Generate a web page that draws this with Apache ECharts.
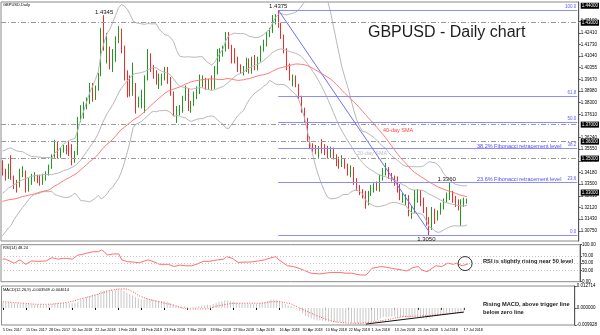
<!DOCTYPE html>
<html><head><meta charset="utf-8">
<script src="https://cdn.jsdelivr.net/npm/echarts@6/dist/echarts.min.js"></script>
<style>html,body{margin:0;padding:0;background:#fff}#c{width:600px;height:335px}</style>
</head><body><div id="c"></div>
<script>
// ---------------- DATA ----------------
const tickLabels = ["5 Dec 2017","15 Dec 2017","28 Dec 2017","10 Jan 2018","22 Jan 2018","1 Feb 2018","13 Feb 2018","23 Feb 2018","7 Mar 2018","19 Mar 2018","27 Mar 2018","5 Apr 2018","16 Apr 2018","30 Apr 2018","10 May 2018","22 May 2018","1 Jun 2018","13 Jun 2018","25 Jun 2018","5 Jul 2018","17 Jul 2018"];
const priceTicks = [1.4310,1.4241,1.4173,1.4104,1.40355,1.3967,1.3898,1.3830,1.3761,1.3624,1.3555,1.3487,1.3418,1.3350,1.3281,1.3212,1.3143,1.3075];
const rsiTicks = [0,30,50,70,100];
const macdTicks = [-0.009928,0,0.012714];

const opens = [1.3470,1.3405,1.3395,1.3460,1.3390,1.3355,1.3340,1.3420,1.3425,1.3315,1.3370,1.3390,1.3392,1.3380,1.3355,1.3385,1.3410,1.3455,1.3510,1.3590,1.3525,1.3555,1.3570,1.3535,1.3530,1.3520,1.3535,1.3720,1.3790,1.3820,1.3845,1.3890,1.3860,1.3920,1.3990,1.4250,1.4125,1.4155,1.4045,1.4135,1.4195,1.4255,1.4150,1.3970,1.3935,1.3895,1.3940,1.3825,1.3835,1.3885,1.3975,1.4080,1.4035,1.4010,1.3950,1.3990,1.3995,1.4030,1.3960,1.3880,1.3765,1.3780,1.3800,1.3855,1.3880,1.3795,1.3830,1.3885,1.3905,1.3945,1.3955,1.3940,1.3960,1.3915,1.4030,1.4125,1.4135,1.4145,1.4230,1.4155,1.4120,1.4095,1.4020,1.4010,1.4030,1.4080,1.4020,1.4080,1.4035,1.4085,1.4150,1.4185,1.4225,1.4255,1.4330,1.4335,1.4290,1.4220,1.4140,1.4035,1.3950,1.3965,1.3935,1.3860,1.3785,1.3725,1.3610,1.3570,1.3555,1.3535,1.3560,1.3550,1.3556,1.3518,1.3552,1.3515,1.3490,1.3462,1.3490,1.3455,1.3415,1.3445,1.3360,1.3335,1.3300,1.3295,1.3240,1.3300,1.3325,1.3340,1.3330,1.3380,1.3420,1.3440,1.3405,1.3380,1.3355,1.3330,1.3265,1.3255,1.3275,1.3170,1.3200,1.3270,1.3305,1.3245,1.3190,1.3120,1.3090,1.3200,1.3150,1.3185,1.3230,1.3256,1.3275,1.3300,1.3262,1.3230,1.3205,1.3235,1.3245];
const highs = [1.3490,1.3440,1.3470,1.3520,1.3400,1.3375,1.3440,1.3455,1.3430,1.3385,1.3410,1.3420,1.3405,1.3405,1.3410,1.3425,1.3465,1.3525,1.3610,1.3600,1.3565,1.3580,1.3580,1.3600,1.3585,1.3545,1.3745,1.3815,1.3835,1.3860,1.3945,1.3945,1.3930,1.4005,1.4270,1.4345,1.4240,1.4160,1.4145,1.4220,1.4280,1.4265,1.4165,1.4020,1.3990,1.4065,1.3945,1.3865,1.3905,1.3990,1.4145,1.4120,1.4050,1.4020,1.4000,1.4000,1.4040,1.4040,1.3980,1.3895,1.3810,1.3815,1.3870,1.3930,1.3915,1.3840,1.3895,1.3925,1.3995,1.3990,1.3975,1.3970,1.3990,1.4045,1.4145,1.4150,1.4165,1.4245,1.4245,1.4170,1.4150,1.4100,1.4055,1.4045,1.4095,1.4090,1.4100,1.4110,1.4100,1.4165,1.4200,1.4245,1.4270,1.4345,1.4350,1.4375,1.4300,1.4230,1.4150,1.4060,1.3995,1.3990,1.3940,1.3870,1.3800,1.3740,1.3630,1.3590,1.3580,1.3575,1.3615,1.3585,1.3575,1.3570,1.3565,1.3525,1.3510,1.3520,1.3500,1.3470,1.3460,1.3450,1.3385,1.3345,1.3320,1.3310,1.3310,1.3345,1.3355,1.3365,1.3405,1.3445,1.3475,1.3450,1.3415,1.3400,1.3395,1.3350,1.3295,1.3290,1.3285,1.3220,1.3315,1.3320,1.3315,1.3270,1.3215,1.3155,1.3215,1.3205,1.3195,1.3240,1.3265,1.3300,1.3360,1.3310,1.3280,1.3260,1.3260,1.3270,1.3265];
const lows = [1.3400,1.3370,1.3380,1.3375,1.3320,1.3300,1.3330,1.3390,1.3300,1.3305,1.3345,1.3365,1.3355,1.3340,1.3345,1.3370,1.3400,1.3440,1.3505,1.3500,1.3505,1.3535,1.3525,1.3515,1.3460,1.3475,1.3520,1.3715,1.3735,1.3790,1.3820,1.3835,1.3845,1.3900,1.3985,1.4135,1.4060,1.4025,1.4010,1.4070,1.4180,1.4120,1.3960,1.3860,1.3865,1.3870,1.3765,1.3800,1.3795,1.3770,1.3960,1.4010,1.3970,1.3935,1.3910,1.3930,1.3960,1.3940,1.3870,1.3750,1.3710,1.3755,1.3770,1.3840,1.3780,1.3770,1.3810,1.3850,1.3880,1.3920,1.3905,1.3905,1.3905,1.3910,1.3995,1.4070,1.4100,1.4130,1.4145,1.4060,1.4060,1.4010,1.4000,1.3990,1.4010,1.4000,1.4000,1.4020,1.4020,1.4070,1.4130,1.4160,1.4215,1.4240,1.4290,1.4270,1.4205,1.4120,1.4020,1.3960,1.3925,1.3920,1.3850,1.3770,1.3710,1.3600,1.3555,1.3540,1.3525,1.3505,1.3530,1.3520,1.3500,1.3505,1.3495,1.3455,1.3440,1.3450,1.3440,1.3400,1.3390,1.3345,1.3310,1.3285,1.3265,1.3205,1.3225,1.3280,1.3300,1.3310,1.3305,1.3370,1.3400,1.3380,1.3365,1.3340,1.3300,1.3255,1.3240,1.3225,1.3160,1.3145,1.3180,1.3240,1.3220,1.3180,1.3105,1.3050,1.3080,1.3115,1.3135,1.3170,1.3200,1.3240,1.3255,1.3240,1.3215,1.3195,1.3103,1.3215,1.3235];
const closes = [1.3405,1.3395,1.3460,1.3390,1.3355,1.3340,1.3420,1.3425,1.3315,1.3370,1.3390,1.3392,1.3380,1.3355,1.3385,1.3410,1.3455,1.3510,1.3590,1.3525,1.3555,1.3565,1.3535,1.3530,1.3520,1.3535,1.3720,1.3795,1.3820,1.3845,1.3890,1.3860,1.3920,1.3990,1.4250,1.4160,1.4155,1.4045,1.4135,1.4195,1.4255,1.4150,1.3970,1.3935,1.3895,1.3940,1.3825,1.3835,1.3885,1.3975,1.4080,1.4035,1.4010,1.3960,1.3990,1.3995,1.4030,1.3960,1.3880,1.3765,1.3780,1.3800,1.3855,1.3880,1.3795,1.3830,1.3885,1.3905,1.3950,1.3955,1.3940,1.3955,1.3915,1.4030,1.4125,1.4135,1.4145,1.4230,1.4155,1.4080,1.4095,1.4020,1.4010,1.4030,1.4080,1.4020,1.4080,1.4035,1.4085,1.4150,1.4185,1.4235,1.4255,1.4330,1.4335,1.4290,1.4220,1.4140,1.4035,1.3980,1.3965,1.3935,1.3860,1.3785,1.3725,1.3610,1.3570,1.3555,1.3535,1.3560,1.3550,1.3535,1.3518,1.3552,1.3515,1.3475,1.3462,1.3490,1.3455,1.3415,1.3445,1.3360,1.3335,1.3300,1.3285,1.3240,1.3300,1.3325,1.3340,1.3330,1.3380,1.3420,1.3440,1.3405,1.3380,1.3355,1.3320,1.3265,1.3270,1.3275,1.3170,1.3200,1.3300,1.3305,1.3255,1.3190,1.3120,1.3085,1.3200,1.3150,1.3185,1.3230,1.3256,1.3286,1.3300,1.3262,1.3230,1.3205,1.3235,1.3255,1.3252];
// closes before the visible window (needed by the 20/40-day averages)
const priorCloses = [1.3230,1.3270,1.3285,1.3270,1.3190,1.3185,1.3200,1.3190,1.3205,1.3215,1.3275,1.3130,1.3130,1.3230,1.3280,1.3275,1.3065,1.3080,1.3175,1.3140,1.3125,1.3130,1.3190,1.3120,1.3175,1.3190,1.3220,1.3210,1.3235,1.3260,1.3315,1.3335,1.3335,1.3325,1.3410,1.3450,1.3525,1.3480,1.3470];

const rsiAt = [0,1,3,4,6,8,10,12,15,17,19,21,22,24,26,27,29,31,33,34,35,36,38,40,41,43,45,47,50,52,54,57,59,61,63,65,67,69,71,74,76,77,79,81,83,85,88,90,92,94,95,98,100,102,106,109,113,116,118,120,123,125,127,130,132,134,137,139,141,143,144,146,148,149,151,153,155,156,158,160];
const rsiValues = [61,61,54,50,59,47,56,55,56,65,61,63,63,61,72,73,77,81,81,86,81,72,75,75,59,54,53,51,59,54,47,47,41,45,43,43,48,55,55,59,61,68,63,52,53,53,56,59,64,68,59,43,41,36,23,21,25,25,23,23,18,18,36,41,39,36,32,29,38,41,32,27,38,43,41,50,47,50,43,48.24];

const macdMain = [0.0032,0.0031,0.0030,0.0029,0.0027,0.0025,0.0024,0.0024,0.0022,0.0021,0.0020,
0.0019,0.0018,0.0017,0.0016,0.0017,0.0019,0.0022,0.0026,0.0027,0.0028,
0.0029,0.0029,0.0028,0.0027,0.0027,0.0037,0.0047,0.0055,0.0062,0.0069,
0.0072,0.0077,0.0082,0.0096,0.0100,0.0103,0.0101,0.0103,0.0106,0.0111,
0.0108,0.0098,0.0088,0.0078,0.0072,0.0062,0.0055,0.0050,0.0050,0.0054,
0.0053,0.0050,0.0045,0.0042,0.0040,0.0039,0.0035,0.0028,0.0018,0.0012,
0.0008,0.0008,0.0008,0.0004,0.0003,0.0005,0.0007,0.0011,0.0014,0.0016,
0.0018,0.0017,0.0022,0.0030,0.0035,0.0038,0.0044,0.0043,0.0039,0.0036,
0.0031,0.0027,0.0025,0.0025,0.0022,0.0023,0.0021,0.0023,0.0027,0.0031,
0.0036,0.0040,0.0047,0.0049,0.0048,0.0042,0.0032,0.0023,0.0015,0.0010,
0.0004,-0.0005,-0.0017,-0.0030,-0.0045,-0.0055,-0.0062,-0.0068,-0.0071,-0.0073,
-0.0075,-0.0077,-0.0077,-0.0079,-0.0082,-0.0083,-0.0082,-0.0083,-0.0085,-0.0084,
-0.0088,-0.0090,-0.0092,-0.0093,-0.0095,-0.0091,-0.0085,-0.0080,-0.0076,-0.0070,
-0.0062,-0.0055,-0.0052,-0.0050,-0.0050,-0.0050,-0.0052,-0.0053,-0.0053,-0.0057,
-0.0058,-0.0054,-0.0050,-0.0050,-0.0052,-0.0058,-0.0063,-0.0057,-0.0054,-0.0049,
-0.0045,-0.0041,-0.0037,-0.0033,-0.0030,-0.0028,-0.0027,-0.0025,-0.0022,-0.0020];
const signalAt = [0,7,13,20,27,34,38,42,45,48,54,59,65,70,75,82,89,94,99,102,107,113,117,123,127,133,139,146,153,160];
const signalValues = [0.0036,0.0027,0.0021,0.0027,0.0052,0.0085,0.0104,0.0110,0.0094,0.0065,0.0036,0.0017,-0.0006,-0.0006,0.0013,0.0027,0.0027,0.0036,0.0027,0.0007,-0.0031,-0.0070,-0.0084,-0.0089,-0.0084,-0.0070,-0.0051,-0.0046,-0.0036,-0.0026];

const fibLevels = [1.4375,1.386885,1.37125,1.356115,1.33627,1.3050];
const fibNames = ['100.0','61.8','50.0','38.2','23.6','0.0'];
const levelLines = [1.4345,1.3710,1.3600,1.3475,1.3050];
const boxValues = [1.4375,1.4345,1.3710,1.3600,1.3475,1.32522,1.3050];

// ---------------- BUILD ----------------
const SLOTS = 199, PEAK = 95, LOW = 147;
const cats = Array.from({length: SLOTS}, (_, i) => String(i));
const candles = closes.map((c, i) => [opens[i], c, lows[i], highs[i]]);
const all = priorCloses.concat(closes);
function windowAt(i, n) { const j = i + priorCloses.length; return all.slice(j - n + 1, j + 1); }
const bbMid = [], bbUp = [], bbLo = [], sma40 = [];
closes.forEach((c, i) => {
  const w = windowAt(i, 20);
  const m = w.reduce((a, b) => a + b, 0) / w.length;
  const sd = Math.sqrt(w.reduce((a, b) => a + (b - m) * (b - m), 0) / w.length);
  bbMid.push(m); bbUp.push(m + 2 * sd); bbLo.push(m - 2 * sd);
  const w4 = windowAt(i, 40);
  sma40.push(w4.reduce((a, b) => a + b, 0) / w4.length);
});
const rsiData = rsiAt.map((x, k) => [x, rsiValues[k]]);
const sigData = signalAt.map((x, k) => [x, signalValues[k]]);

const FONT = '"Liberation Sans", Arial, sans-serif';
const ax = (gi) => ({type: 'category', gridIndex: gi, data: cats, boundaryGap: true,
  axisLine: {show: false}, axisTick: {show: false}, axisLabel: {show: false}, splitLine: {show: false}});
const tickOn = (i) => i % 8 === 0 && i / 8 < tickLabels.length;
const bottomAx = Object.assign(ax(2), {
  axisLabel: {show: true, interval: tickOn, formatter: (v, i) => tickLabels[i / 8] || '',
    fontSize: 3.7, fontFamily: FONT, color: '#000', align: 'left', margin: 3, hideOverlap: false},
  axisTick: {show: true, interval: tickOn, alignWithLabel: true, length: 2, lineStyle: {color: '#000'}}
});
const yax = (gi, min, max, ticks, fmt) => ({type: 'value', gridIndex: gi, position: 'right', min, max, scale: true,
  axisLine: {show: true, lineStyle: {color: '#555', width: 1}},
  axisTick: {show: true, customValues: ticks, length: 2, lineStyle: {color: '#555'}},
  axisLabel: {show: true, customValues: ticks, formatter: fmt, fontSize: 4.5, fontFamily: FONT, color: '#000', margin: 2},
  splitLine: {show: false}});

const fibLines = fibLevels.map((v, k) => [
  {coord: [PEAK, v], lineStyle: {color: '#8c8cff', width: 1, type: 'solid'},
   label: {show: true, formatter: fibNames[k], position: 'insideEndTop', distance: 1, fontSize: 4.5, color: '#5a5aff', fontFamily: FONT}},
  {coord: [SLOTS - 1, v]}]);
const dashLines = levelLines.map(v => ({yAxis: v, label: {show: false}, lineStyle: {color: '#9a9a9a', width: 1, type: [5, 2, 1, 2]}}));
const trend = [{coord: [PEAK, fibLevels[0]], label: {show: false}, lineStyle: {color: '#6e6eff', width: 1, type: 'solid'}}, {coord: [LOW, 1.3068]}];

const option = {
  animation: false,
  backgroundColor: '#fff',
  grid: [
    {left: 1, right: 20, top: 2, height: 239, show: true, borderColor: '#8a8a8a', borderWidth: 1},
    {left: 1, right: 20, top: 244.7, height: 37, show: true, borderColor: '#8a8a8a', borderWidth: 1},
    {left: 1, right: 20, top: 286, height: 39, show: true, borderColor: '#8a8a8a', borderWidth: 1}
  ],
  xAxis: [ax(0), ax(1), bottomAx],
  yAxis: [
    yax(0, 1.30147, 1.44221, priceTicks, v => v.toFixed(5)),
    yax(1, 0, 100, rsiTicks, v => v.toFixed(2)),
    yax(2, macdTicks[0], macdTicks[2], macdTicks, v => v.toFixed(6))
  ],
  series: [
    {type: 'line', name: 'bbUp', xAxisIndex: 0, yAxisIndex: 0, data: bbUp, showSymbol: false, lineStyle: {color: '#b8b8b8', width: 1}},
    {type: 'line', name: 'bbMid', xAxisIndex: 0, yAxisIndex: 0, data: bbMid, showSymbol: false, lineStyle: {color: '#b8b8b8', width: 1}},
    {type: 'line', name: 'bbLo', xAxisIndex: 0, yAxisIndex: 0, data: bbLo, showSymbol: false, lineStyle: {color: '#b8b8b8', width: 1}},
    {type: 'line', name: 'sma40', xAxisIndex: 0, yAxisIndex: 0, data: sma40, showSymbol: false, lineStyle: {color: '#ff7a7a', width: 1},
      markLine: {silent: true, symbol: ['none', 'none'], animation: false,
        lineStyle: {color: 'rgba(255,255,255,0)', width: 1, type: 'solid'},
        label: {show: true, position: 'end', distance: 2, formatter: p => Number(p.value).toFixed(5), fontSize: 4.5, fontFamily: FONT,
          color: '#fff', backgroundColor: '#000', padding: [0.5, 1]},
        data: boxValues.map(v => ({yAxis: v}))}},
    {type: 'candlestick', xAxisIndex: 0, yAxisIndex: 0, data: candles, barWidth: 1,
      itemStyle: {color: '#1f9a1f', color0: '#f22a2a', borderColor: '#1f9a1f', borderColor0: '#f22a2a', borderWidth: 1},
      markLine: {silent: true, symbol: ['none', 'none'], animation: false, label: {show: false},
        data: [...dashLines, ...fibLines, trend]},
      markPoint: {silent: true, symbol: 'circle', symbolSize: 1, itemStyle: {color: 'rgba(0,0,0,0)'},
        label: {show: true, position: 'inside', fontSize: 6, fontFamily: FONT, color: '#111'},
        data: [
          {coord: [34.6, 1.43603], value: '1.4345', label: {formatter: '1.4345'}},
          {coord: [94.9, 1.43956], value: '1.4375', label: {formatter: '1.4375'}},
          {coord: [153.3, 1.33768], value: '1.3360', label: {formatter: '1.3360'}},
          {coord: [146, 1.30235], value: '1.3050', label: {formatter: '1.3050'}}
        ]}
    },
    {type: 'line', name: 'rsi', xAxisIndex: 1, yAxisIndex: 1, data: rsiData, showSymbol: false, lineStyle: {color: '#ff6f6f', width: 1},
      markLine: {silent: true, symbol: ['none', 'none'], label: {show: false},
        lineStyle: {color: '#c4c4c4', width: 1, type: [1, 2]}, data: [{yAxis: 30}, {yAxis: 50}, {yAxis: 70}]},
      markPoint: {silent: true, symbol: 'circle', symbolSize: 14, label: {show: false},
        itemStyle: {color: 'rgba(0,0,0,0)', borderColor: '#333', borderWidth: 1},
        data: [{coord: [158.7, 49]}]}},
    {type: 'bar', name: 'macd', xAxisIndex: 2, yAxisIndex: 2, data: macdMain, barWidth: 1, itemStyle: {color: '#c8c8c8'},
      markLine: {silent: true, symbol: ['none', 'none'], label: {show: false},
        lineStyle: {color: '#111', width: 1, type: 'solid'},
        data: [[{coord: [126.3, -0.0094]}, {coord: [160, -0.0024]}]]}},
    {type: 'line', name: 'signal', xAxisIndex: 2, yAxisIndex: 2, data: sigData, showSymbol: false, smooth: true,
      lineStyle: {color: '#ff4d4d', width: 1, type: [1, 1.5]}}
  ],
  graphic: [
    {type: 'text', x: 368, y: 33, style: {text: 'GBPUSD - Daily chart', font: '16px ' + FONT, fill: '#1e1e1e', textVerticalAlign: 'middle'}},
    {type: 'text', x: 3, y: 4.5, style: {text: 'GBPUSD,Daily', font: '4px ' + FONT, fill: '#000', textVerticalAlign: 'middle'}},
    {type: 'text', x: 3, y: 248, style: {text: 'RSI(14) 48.24', font: '4px ' + FONT, fill: '#000', textVerticalAlign: 'middle'}},
    {type: 'text', x: 3, y: 289.5, style: {text: 'MACD(12,26,9) -0.003949 -0.004614', font: '4px ' + FONT, fill: '#000', textVerticalAlign: 'middle'}},
    {type: 'text', x: 383, y: 130, style: {text: '40-day SMA', font: '5.5px ' + FONT, fill: '#ff4444', textVerticalAlign: 'middle'}},
    {type: 'text', x: 357, y: 153, style: {text: '20-day SMA', font: '5.5px ' + FONT, fill: '#bdbdbd', textVerticalAlign: 'middle'}},
    {type: 'text', x: 477, y: 146, style: {text: '38.2% Fibonacci retracement level', font: '5.5px ' + FONT, fill: '#4b4bff', textVerticalAlign: 'middle'}},
    {type: 'text', x: 477, y: 179.5, style: {text: '23.6% Fibonacci retracement level', font: '5.5px ' + FONT, fill: '#4b4bff', textVerticalAlign: 'middle'}},
    {type: 'text', x: 483, y: 261, style: {text: 'RSI is slightly rising near 50 level', font: 'bold 5.7px ' + FONT, fill: '#1a1a1a', textVerticalAlign: 'middle'}},
    {type: 'text', x: 483, y: 304.7, style: {text: 'Rising MACD, above trigger line', font: 'bold 5.7px ' + FONT, fill: '#1a1a1a', textVerticalAlign: 'middle'}},
    {type: 'text', x: 483, y: 312.7, style: {text: 'below zero line', font: 'bold 5.7px ' + FONT, fill: '#1a1a1a', textVerticalAlign: 'middle'}}
  ]
};
const chart = echarts.init(document.getElementById('c'), null, {renderer: 'canvas'});
chart.setOption(option);
</script>
</body></html>
